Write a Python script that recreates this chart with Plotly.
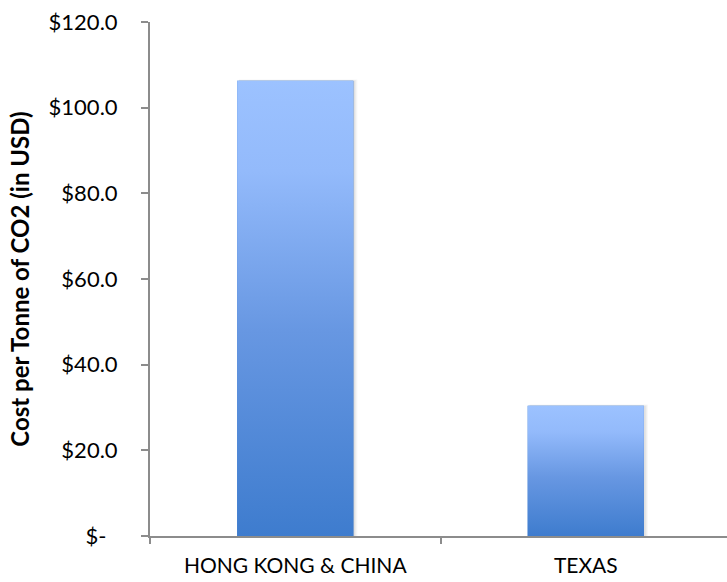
import plotly.graph_objects as go

categories = ["HONG KONG & CHINA", "TEXAS"]
values = [106.3, 30.4]
y_tickvals = [0, 20, 40, 60, 80, 100, 120]
y_ticktext = ["$-\u00a0\u00a0", "$20.0", "$40.0", "$60.0", "$80.0", "$100.0", "$120.0"]

BAR_W = 0.40
X_RANGE = [-0.5, 1.486]
grad = [[0, "#3E7CCE"], [0.45, "#6797E2"], [0.8, "#93BAFB"], [1, "#9CC2FF"]]

fig = go.Figure()

# base bars (category axis)
fig.add_trace(go.Bar(x=categories, y=values, width=BAR_W,
                     marker=dict(color="#3E7CCE", line=dict(width=0)),
                     hoverinfo="skip", showlegend=False))

# soft shadow + gradient overlay on a hidden numeric axis
for i, v in enumerate(values):
    for k, a in enumerate([0.03, 0.04, 0.05]):
        d = 0.014 - k * 0.004
        x0, x1 = i - BAR_W / 2 + 0.006, i + BAR_W / 2 + d
        y0, y1 = 0, v + (2 - k) * 0.15
        fig.add_trace(go.Scatter(x=[x0, x1, x1, x0, x0], y=[y0, y0, y1, y1, y0],
                                 xaxis="x2", mode="lines", line=dict(width=0),
                                 fill="toself", fillcolor=f"rgba(0,0,0,{a})",
                                 hoverinfo="skip", showlegend=False))
    x0, x1 = i - BAR_W / 2, i + BAR_W / 2
    fig.add_trace(go.Scatter(x=[x0, x1, x1, x0, x0], y=[0, 0, v, v, 0],
                             xaxis="x2", mode="lines", line=dict(width=0),
                             fill="toself",
                             fillgradient=dict(type="vertical", colorscale=grad),
                             hoverinfo="skip", showlegend=False))

axis_color = "#8C8C8C"
fig.update_layout(
    width=727, height=582,
    margin=dict(l=150, r=0, t=22, b=46),
    paper_bgcolor="white", plot_bgcolor="white",
    font=dict(family="Lato, 'Open Sans', sans-serif", size=21, color="#000000"),
    xaxis=dict(type="category", range=X_RANGE, showgrid=False, zeroline=False,
               showline=True, linecolor=axis_color, linewidth=2,
               ticks="outside", tickson="boundaries", ticklen=6, tickwidth=2,
               tickcolor=axis_color, tickfont=dict(size=21),
               ticklabelstandoff=10),
    xaxis2=dict(overlaying="x", range=X_RANGE, visible=False),
    yaxis=dict(range=[0, 120], tickvals=y_tickvals, ticktext=y_ticktext,
               showgrid=False, zeroline=False, showline=True,
               linecolor=axis_color, linewidth=2, ticks="outside", ticklen=7,
               tickwidth=2, tickcolor=axis_color, tickfont=dict(size=22),
               ticklabelstandoff=19,
               title=dict(text="<b>Cost per Tonne of CO2 (in USD)</b>",
                          font=dict(size=24), standoff=12)),
    bargap=0.6,
)

fig.write_html("out.html")
